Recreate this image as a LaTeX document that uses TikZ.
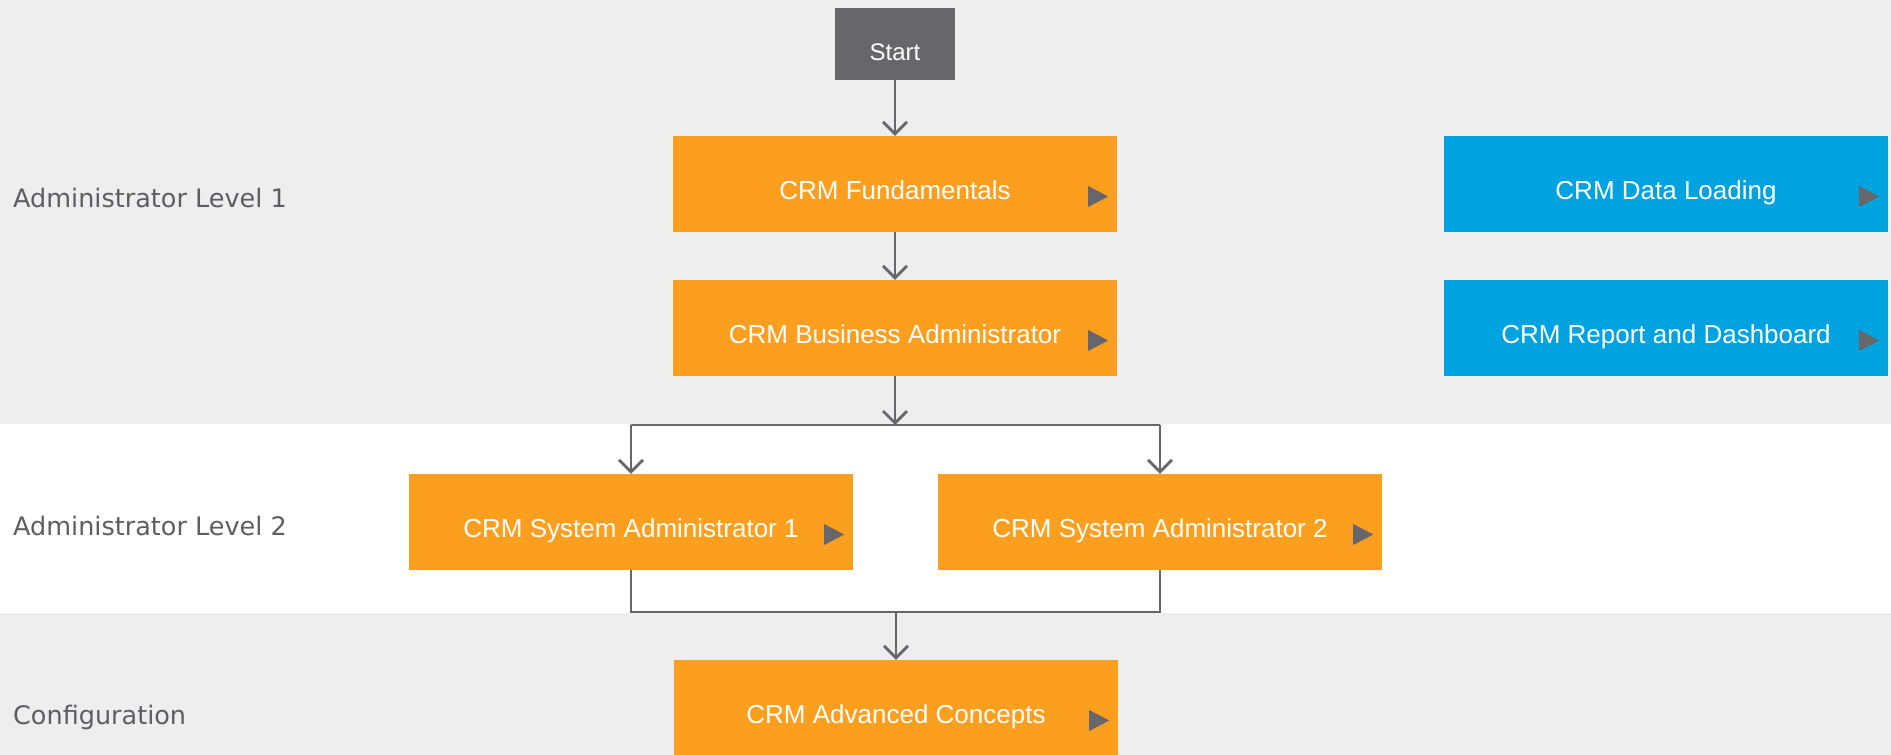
\documentclass[tikz,border=0pt]{standalone}
\usepackage{fontspec}
\setmainfont{Liberation Sans}
\newfontfamily\lblfont{DejaVu Sans}
\usetikzlibrary{arrows.meta}
\definecolor{orangebox}{HTML}{FD9F1E}
\definecolor{bluebox}{HTML}{00A3E0}
\definecolor{bandgray}{HTML}{EEEEEE}
\definecolor{darkgray}{HTML}{67666B}
\definecolor{lbltext}{HTML}{5E5E62}
\tikzset{
  box/.style={rectangle, inner sep=0pt, minimum width=444pt, minimum height=96pt,
    text=white, font=\fontsize{26}{30}\selectfont, text height=30pt, text depth=0pt},
  obox/.style={box, fill=orangebox},
  bbox/.style={box, fill=bluebox},
  startbox/.style={rectangle, inner sep=0pt, minimum width=120pt, minimum height=72pt,
    fill=darkgray, text=white, font=\fontsize{24}{28}\selectfont, text height=32pt, text depth=0pt},
  lvl/.style={anchor=base west, inner sep=0pt, text=lbltext, font=\lblfont\fontsize{25.5}{30}\selectfont},
  wire/.style={draw=darkgray, line width=2.7pt},
  conn/.style={wire, -{Straight Barb[length=12pt,width=24pt]}},
}
\newcommand\trimark[1]{\fill[darkgray] ([shift={(-29,2)}]#1.east) -- ([shift={(-29,23)}]#1.east) -- ([shift={(-9,12.5)}]#1.east) -- cycle;}
\begin{document}
\begin{tikzpicture}[x=1pt,y=-1pt]
\useasboundingbox (0,0) rectangle (1891,755);
% bands
\fill[bandgray] (0,0) rectangle (1891,424);
\fill[white] (0,424) rectangle (1891,613);
\fill[bandgray] (0,613) rectangle (1891,755);
% level labels
\node[lvl] (l1) at (13,207) {Administrator Level 1};
\node[lvl] (l2) at (13,535) {Administrator Level 2};
\node[lvl] (l3) at (13,724) {Configuration};
% boxes
\node[startbox] (start) at (895,44) {Start};
\node[obox] (fund) at (895,184) {CRM Fundamentals};
\node[obox] (bus) at (895,328) {CRM Business Administrator};
\node[bbox] (load) at (1666,184) {CRM Data Loading};
\node[bbox] (rep) at (1666,328) {CRM Report and Dashboard};
\node[obox] (sys1) at (631,522) {CRM System Administrator 1};
\node[obox] (sys2) at (1160,522) {CRM System Administrator 2};
\node[obox] (adv) at (896,708) {CRM Advanced Concepts};
% markers
\trimark{fund}
\trimark{bus}
\trimark{load}
\trimark{rep}
\trimark{sys1}
\trimark{sys2}
\trimark{adv}
% connectors
\coordinate (topbus) at (895,425);
\coordinate (botbus) at (896,612);
\draw[conn] (start) -- (fund);
\draw[conn] (fund) -- (bus);
\draw[conn] (bus.south) -- (topbus);
\draw[wire] (sys1.north |- topbus) -- (sys2.north |- topbus);
\draw[conn] (sys1.north |- topbus) -- (sys1.north);
\draw[conn] (sys2.north |- topbus) -- (sys2.north);
\draw[wire] (sys1.south) -- (sys1.south |- botbus) -- (sys2.south |- botbus) -- (sys2.south);
\draw[conn] (adv.north |- botbus) -- (adv.north);
\end{tikzpicture}
\end{document}
